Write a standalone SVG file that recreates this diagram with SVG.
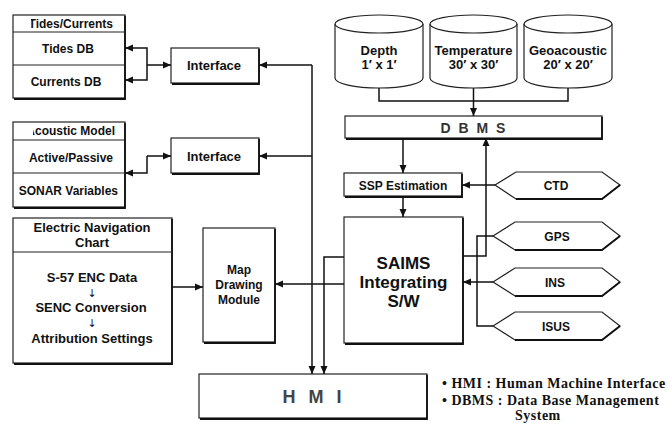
<svg xmlns="http://www.w3.org/2000/svg" width="670" height="424" viewBox="0 0 670 424">
<style>
  .box{fill:#fff;stroke:#222;stroke-width:1.2}
  .sh{fill:none;stroke:#111;stroke-width:1.8}
  .div{stroke:#222;stroke-width:1.2}
  .t{font-family:"Liberation Sans",Arial,sans-serif;font-weight:bold;fill:#111;text-anchor:middle}
  .s12{font-size:12px}
  .s13{font-size:13px}
  .s17{font-size:17px}
  .arw{font-family:"DejaVu Sans",sans-serif;font-size:11px;fill:#111;text-anchor:middle}
  .c{fill:none;stroke:#111;stroke-width:1.5}
  .leg{font-family:"Liberation Serif","Times New Roman",serif;font-weight:bold;font-size:14px;letter-spacing:0.5px;fill:#111}
</style>
<defs>
  <marker id="ar" viewBox="0 0 8 8" refX="8" refY="4" markerWidth="8" markerHeight="8" markerUnits="userSpaceOnUse" orient="auto">
    <path d="M0,0.5 L8,4 L0,7.5 z" fill="#111"/>
  </marker>
  <clipPath id="cpT"><rect x="31" y="15" width="94" height="17"/></clipPath>
  <clipPath id="cpA"><rect x="33" y="122" width="92" height="18"/></clipPath>
  <clipPath id="cpAP"><rect x="28" y="140" width="97" height="33"/></clipPath>
  <clipPath id="cpS"><rect x="16" y="173" width="109" height="34"/></clipPath>
</defs>

<g id="tides-currents">
  <rect class="box" x="13" y="15" width="112" height="83"/>
  <path class="sh" d="M125,16 V99 H14"/>
  <line class="div" x1="13" y1="32" x2="125" y2="32"/>
  <line class="div" x1="13" y1="65" x2="125" y2="65"/>
  <text class="t s12" x="113" y="27.5" style="text-anchor:end" clip-path="url(#cpT)">Tides/Currents</text>
  <text class="t s12" x="68" y="53">Tides DB</text>
  <text class="t s12" x="66" y="86">Currents DB</text>
</g>

<g id="interface1">
  <rect class="box" x="171" y="48" width="88" height="35"/>
  <path class="sh" d="M259,49 V84 H172"/>
  <text class="t s13" x="214" y="70">Interface</text>
</g>

<g id="acoustic-model">
  <rect class="box" x="13" y="122" width="112" height="85"/>
  <path class="sh" d="M125,123 V208 H14"/>
  <line class="div" x1="13" y1="140" x2="125" y2="140"/>
  <line class="div" x1="13" y1="173" x2="125" y2="173"/>
  <text class="t s12" x="115" y="135" style="text-anchor:end" clip-path="url(#cpA)">Acoustic Model</text>
  <text class="t s12" x="113" y="161.5" style="text-anchor:end" clip-path="url(#cpAP)">Active/Passive</text>
  <text class="t s12" x="118" y="194.5" style="text-anchor:end" clip-path="url(#cpS)">SONAR Variables</text>
</g>

<g id="interface2">
  <rect class="box" x="171" y="138" width="88" height="35"/>
  <path class="sh" d="M259,139 V174 H172"/>
  <text class="t s13" x="214" y="160.5">Interface</text>
</g>

<g id="enc">
  <rect class="box" x="13" y="218" width="159" height="145"/>
  <path class="sh" d="M172,219 V364 H14"/>
  <line class="div" x1="13" y1="252" x2="172" y2="252"/>
  <text class="t s13" x="92" y="232">Electric Navigation</text>
  <text class="t s13" x="92" y="247">Chart</text>
  <text class="t s13" x="92" y="282">S-57 ENC Data</text>
  <text class="arw" x="92" y="297">↓</text>
  <text class="t s13" x="91" y="312">SENC Conversion</text>
  <text class="arw" x="92" y="327">↓</text>
  <text class="t s13" x="92" y="343">Attribution Settings</text>
</g>

<g id="map-drawing">
  <rect class="box" x="203" y="228" width="72" height="114"/>
  <path class="sh" d="M275,229 V343 H204"/>
  <text class="t s12" x="239" y="274">Map</text>
  <text class="t s12" x="239" y="289">Drawing</text>
  <text class="t s12" x="239" y="304">Module</text>
</g>

<g id="depth">
  <path class="box" d="M335,24 V78 A44,10 0 0 0 423,78 V24"/>
  <ellipse class="box" cx="379" cy="24" rx="44" ry="9"/>
  <text class="t s13" x="379" y="54.5">Depth</text>
  <text class="t s13" x="379" y="68.5">1′ x 1′</text>
</g>
<g id="temperature">
  <path class="box" d="M430,24 V78 A43.5,10 0 0 0 517,78 V24"/>
  <ellipse class="box" cx="473.5" cy="24" rx="43.5" ry="9"/>
  <text class="t s13" x="473.5" y="54.5">Temperature</text>
  <text class="t s13" x="473.5" y="68.5">30′ x 30′</text>
</g>
<g id="geoacoustic">
  <path class="box" d="M524,24 V78 A44,10 0 0 0 612,78 V24"/>
  <ellipse class="box" cx="568" cy="24" rx="44" ry="9"/>
  <text class="t s13" x="568" y="54.5">Geoacoustic</text>
  <text class="t s13" x="568" y="68.5">20′ x 20′</text>
</g>

<g id="dbms">
  <rect class="box" x="345" y="116" width="257" height="22"/>
  <path class="sh" d="M602,117 V139 H346"/>
  <text class="t" x="474" y="132.5" style="font-size:14px;letter-spacing:2px;fill:#333">D B M S</text>
</g>

<g id="ssp">
  <rect class="box" x="344" y="173" width="118" height="23"/>
  <path class="sh" d="M462,174 V197 H345"/>
  <text class="t s12" x="403" y="189.5">SSP Estimation</text>
</g>

<g id="saims">
  <rect class="box" x="344" y="217" width="119" height="126"/>
  <path class="sh" d="M463,218 V344 H345"/>
  <text class="t s17" x="403.5" y="269">SAIMS</text>
  <text class="t s17" x="403.5" y="288">Integrating</text>
  <text class="t s17" x="403.5" y="306.5">S/W</text>
</g>

<g id="ctd">
  <polygon class="box" points="495,185 516,172 602,172 620,185 602,199 516,199"/>
  <path class="sh" d="M620,185 L602,199 H516"/>
  <text class="t s12" x="556" y="189.5">CTD</text>
</g>
<g id="gps">
  <polygon class="box" points="493,236 515,222 602,222 620,236 602,250 515,250"/>
  <path class="sh" d="M620,236 L602,250 H515"/>
  <text class="t s12" x="557" y="240.5">GPS</text>
</g>
<g id="ins">
  <polygon class="box" points="493,282 515,268 602,268 620,282 602,296 515,296"/>
  <path class="sh" d="M620,282 L602,296 H515"/>
  <text class="t s12" x="555" y="286.5">INS</text>
</g>
<g id="isus">
  <polygon class="box" points="493,326 515,312 602,312 620,326 602,340 515,340"/>
  <path class="sh" d="M620,326 L602,340 H515"/>
  <text class="t s12" x="556" y="330.5">ISUS</text>
</g>

<g id="hmi">
  <rect class="box" x="199" y="374" width="228" height="44"/>
  <path class="sh" d="M427,375 V419 H200"/>
  <text class="t" x="314" y="403" style="font-size:18px;letter-spacing:4px;fill:#444">H M I</text>
</g>

<g id="connectors">
  <path class="c" d="M147,65 H171" marker-end="url(#ar)"/>
  <path class="c" d="M147,65 V48 H125" marker-end="url(#ar)"/>
  <path class="c" d="M147,65 V80 H125" marker-end="url(#ar)"/>
  <path class="c" d="M147,156 H171" marker-end="url(#ar)"/>
  <path class="c" d="M147,156 V173 H125" marker-end="url(#ar)"/>
  <path class="c" d="M312,65 H259" marker-end="url(#ar)"/>
  <path class="c" d="M312,156 H259" marker-end="url(#ar)"/>
  <path class="c" d="M312,65 V374" marker-end="url(#ar)"/>
  <path class="c" d="M344,257 H324 V374" marker-end="url(#ar)"/>
  <path class="c" d="M344,284 H275" marker-end="url(#ar)"/>
  <path class="c" d="M172,287 H203" marker-end="url(#ar)"/>
  <path class="c" d="M379,88 V101 H568 V88"/>
  <path class="c" d="M473.5,88 V116" marker-end="url(#ar)"/>
  <path class="c" d="M403,138 V173" marker-end="url(#ar)"/>
  <path class="c" d="M403,196 V217" marker-end="url(#ar)"/>
  <path class="c" d="M495,185 H462" marker-end="url(#ar)"/>
  <path class="c" d="M463,256 H486 V138" marker-end="url(#ar)"/>
  <path class="c" d="M493,236 H477 V326 H493"/>
  <path class="c" d="M493,282 H463" marker-end="url(#ar)"/>
</g>

<g id="legend">
  <text class="leg" x="442" y="388">• HMI : Human Machine Interface</text>
  <text class="leg" x="442" y="405">• DBMS : Data Base Management</text>
  <text class="leg" x="515" y="420">System</text>
</g>
</svg>
